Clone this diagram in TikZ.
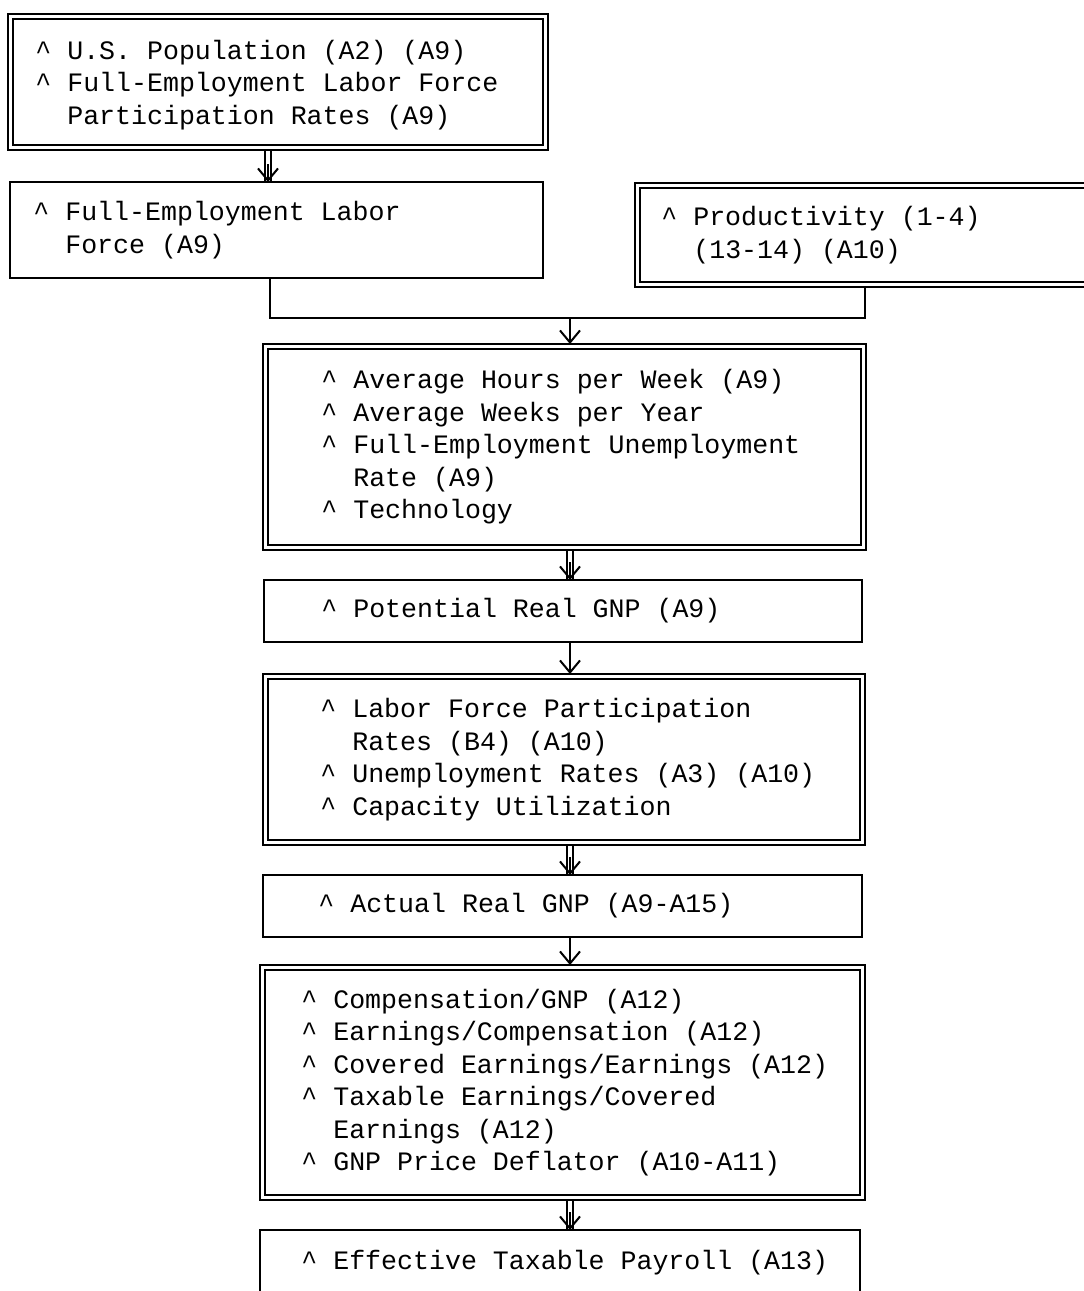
\documentclass[tikz,border=0pt]{standalone}
\usepackage{fontspec}
\newfontfamily\mono{Liberation Mono}
\usetikzlibrary{arrows.meta}
\newcommand\cc{\textasciicircum\ }
\newcommand\ii{\hphantom{\textasciicircum}\ }
\newcommand\dblconn[2]{%
  \draw[conn] ([xshift=-1.6pt]#1) -- ([xshift=-1.6pt]#2);
  \draw[conn] ([xshift=1.6pt]#1) -- ([xshift=1.6pt]#2);
  \draw[conn,arr] ([yshift=9pt]#2) -- (#2);
}
\begin{document}
\begin{tikzpicture}[x=0.5pt,y=-0.5pt,
  box/.style={draw,line width=1.1pt,anchor=north west,inner sep=0pt,outer sep=0pt},
  txt/.style={anchor=west,align=left,inner sep=0pt,
    font=\mono\fontsize{13.3}{16.25}\selectfont},
  conn/.style={line width=1pt},
  arr/.style={-{Straight Barb[length=6pt,width=10pt]}}]
\useasboundingbox (0,0) rectangle (1083,1291);
% boxes
\node[box,minimum width=270pt,minimum height=68pt] (b1) at (8,14) {};
\node[box,minimum width=266.5pt,minimum height=48pt] (b2) at (10,182) {};
\node[box,minimum width=230pt,minimum height=52pt] (b3) at (635,183) {};
\node[box,minimum width=301.5pt,minimum height=103pt] (b4) at (263,344) {};
\node[box,minimum width=299pt,minimum height=31pt] (b5) at (264,580) {};
\node[box,minimum width=301pt,minimum height=85.5pt] (b6) at (263,674) {};
\node[box,minimum width=299.5pt,minimum height=31pt] (b7) at (263,875) {};
\node[box,minimum width=302.5pt,minimum height=117.5pt] (b8) at (260,965) {};
\node[box,minimum width=300pt,minimum height=33pt] (b9) at (260,1230) {};
% inner lines of the double boxes
\foreach \n in {b1,b3,b4,b6,b8}
  \draw[line width=1.1pt] ([shift={(2.6pt,-2.6pt)}]\n.north west) rectangle ([shift={(-2.6pt,2.6pt)}]\n.south east);
% texts
\node[txt] (t1) at ([xshift=13.5pt,yshift=-1.5pt]b1.west) {\cc U.S. Population (A2) (A9)\\\cc Full-Employment Labor Force\\\ii Participation Rates (A9)};
\node[txt] (t2) at ([xshift=11.5pt]b2.west) {\cc Full-Employment Labor\\\ii Force (A9)};
\node[txt] (t3) at ([xshift=13pt]b3.west) {\cc Productivity (1-4)\\\ii (13-14) (A10)};
\node[txt] (t4) at ([xshift=29pt]b4.west) {\cc Average Hours per Week (A9)\\\cc Average Weeks per Year\\\cc Full-Employment Unemployment\\\ii Rate (A9)\\\cc Technology};
\node[txt] (t5) at ([xshift=28.5pt]b5.west) {\cc Potential Real GNP (A9)};
\node[txt] (t6) at ([xshift=28.5pt]b6.west) {\cc Labor Force Participation\\\ii Rates (B4) (A10)\\\cc Unemployment Rates (A3) (A10)\\\cc Capacity Utilization};
\node[txt] (t7) at ([xshift=27.5pt]b7.west) {\cc Actual Real GNP (A9-A15)};
\node[txt] (t8) at ([xshift=20.5pt]b8.west) {\cc Compensation/GNP (A12)\\\cc Earnings/Compensation (A12)\\\cc Covered Earnings/Earnings (A12)\\\cc Taxable Earnings/Covered\\\ii Earnings (A12)\\\cc GNP Price Deflator (A10-A11)};
\node[txt] (t9) at ([xshift=20.5pt]b9.west) {\cc Effective Taxable Payroll (A13)};
% connectors
\coordinate (k) at (268,0);
\coordinate (j) at (570,318);
\dblconn{b1.south -| k}{b2.north -| k}
\draw[conn] ([xshift=-3.5pt]b2.south) |- (j) -| (b3.south);
\draw[conn,arr] (j) -- (b4.north -| j);
\dblconn{b4.south -| j}{b5.north -| j}
\draw[conn,arr] (b5.south -| j) -- (b6.north -| j);
\dblconn{b6.south -| j}{b7.north -| j}
\draw[conn,arr] (b7.south -| j) -- (b8.north -| j);
\dblconn{b8.south -| j}{b9.north -| j}
\end{tikzpicture}
\end{document}
